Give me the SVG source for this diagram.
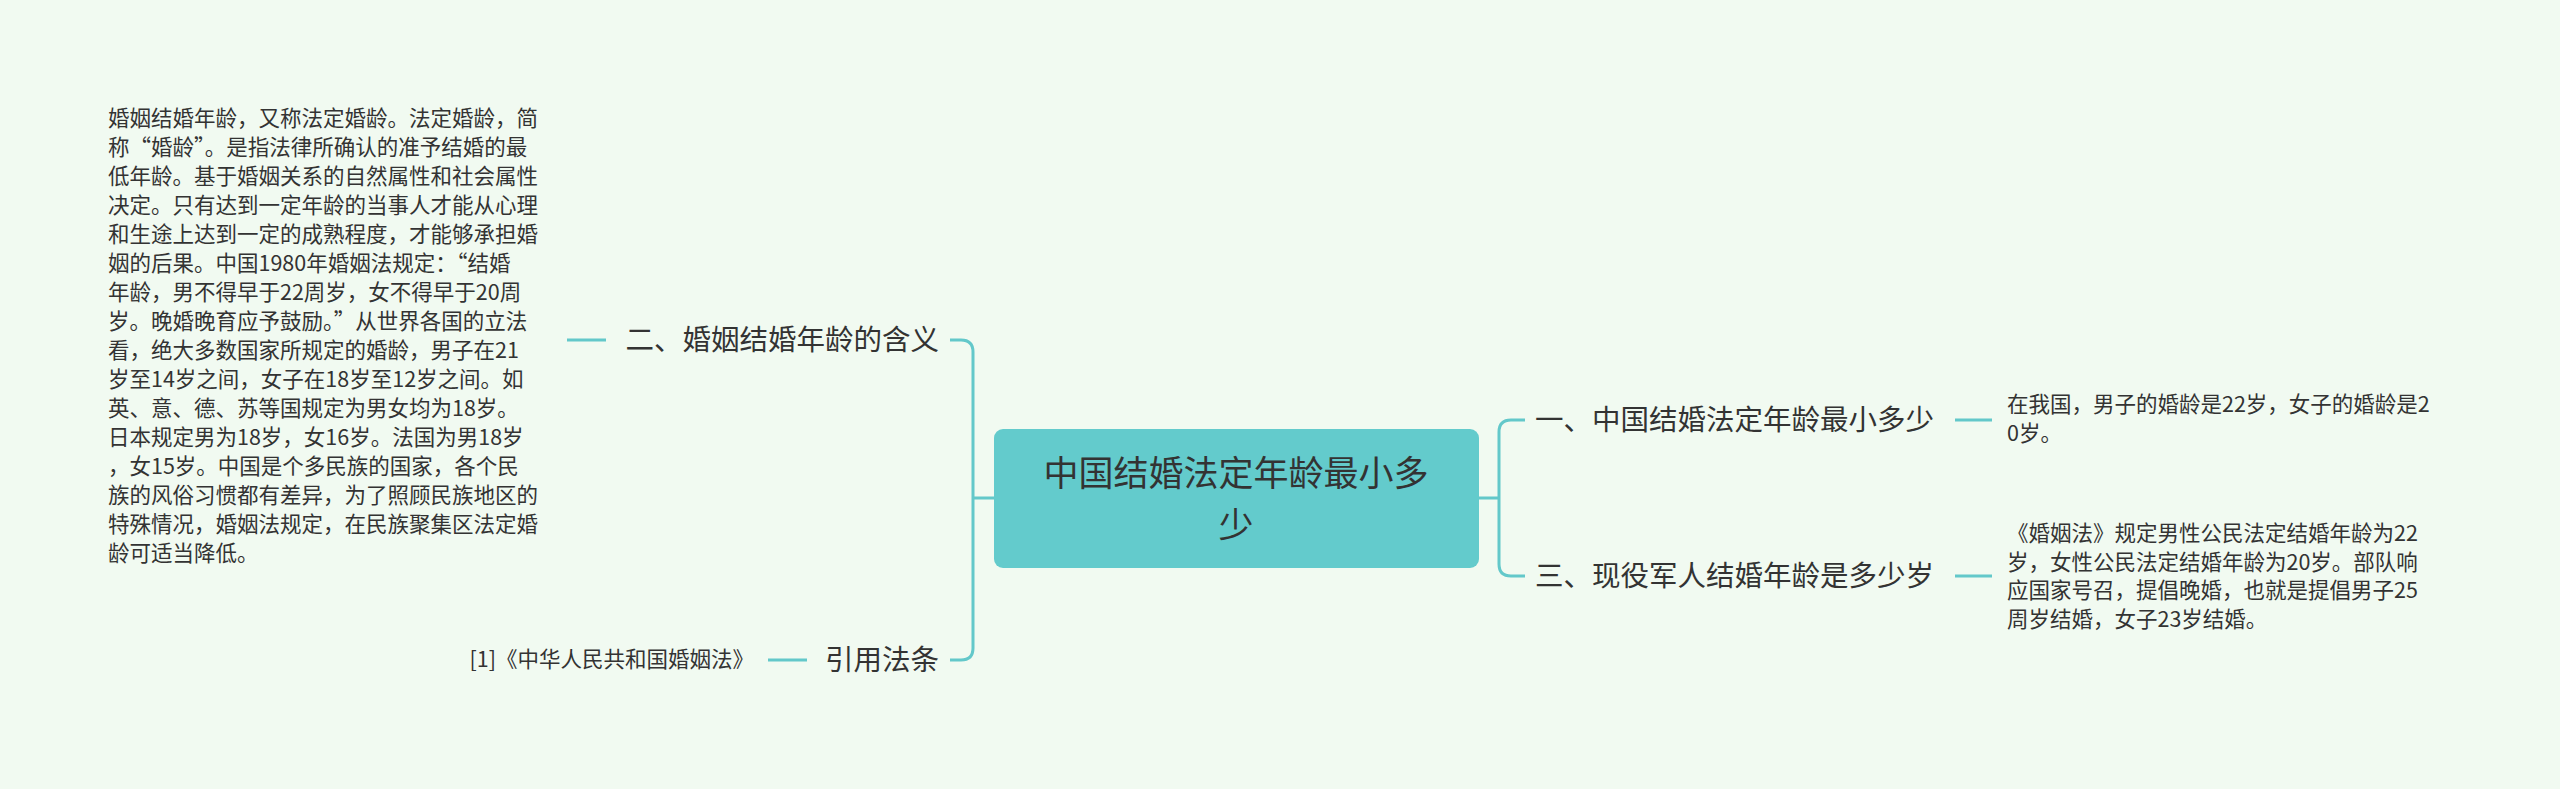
<svg xmlns="http://www.w3.org/2000/svg" width="2560" height="789" viewBox="0 0 2560 789">
<style>
text{font-family:"Noto Sans CJK SC","Noto Sans",sans-serif;fill:#333}
.c{fill:none;stroke:#63c8ca;stroke-width:3}
.t1{font-size:28.5px}
.t2{font-size:21.5px}
</style>
<rect width="2560" height="789" fill="#f1faf1"/>
<g id="connectors">
<path class="c" d="M1479 498H1499M1499 432Q1499 420 1511 420H1525M1499 432V564Q1499 576 1511 576H1525"/>
<path class="c" d="M994 498H973M973 352Q973 340 961 340H950M973 352V648Q973 660 961 660H950"/>
<path class="c" d="M1955 420H1992M1955 576H1992M567 340H606M768 660H807"/>
</g>
<g id="root"><rect x="994" y="429" width="485" height="139" rx="9" fill="#63cbcc"/>
<text x="1236" y="486" text-anchor="middle" font-size="35">中国结婚法定年龄最小多</text>
<text x="1236" y="538" text-anchor="middle" font-size="35">少</text></g>
<g id="n1"><text class="t1" x="1535" y="430">一、中国结婚法定年龄最小多少</text></g>
<g id="n1a"><text class="t2" x="2007" y="412">在我国，男子的婚龄是22岁，女子的婚龄是2</text><text class="t2" x="2007" y="441">0岁。</text></g>
<g id="n3"><text class="t1" x="1535" y="586">三、现役军人结婚年龄是多少岁</text></g>
<g id="n3a" class="t2">
<text x="2007" y="541">《婚姻法》规定男性公民法定结婚年龄为22</text>
<text x="2007" y="570">岁，女性公民法定结婚年龄为20岁。部队响</text>
<text x="2007" y="598">应国家号召，提倡晚婚，也就是提倡男子25</text>
<text x="2007" y="627">周岁结婚，女子23岁结婚。</text></g>
<g id="n2"><text class="t1" x="939" y="350" text-anchor="end">二、婚姻结婚年龄的含义</text></g>
<g id="n2a" class="t2">
<text x="108" y="126">婚姻结婚年龄，又称法定婚龄。法定婚龄，简</text>
<text x="108" y="155">称“婚龄”。是指法律所确认的准予结婚的最</text>
<text x="108" y="184">低年龄。基于婚姻关系的自然属性和社会属性</text>
<text x="108" y="213">决定。只有达到一定年龄的当事人才能从心理</text>
<text x="108" y="242">和生途上达到一定的成熟程度，才能够承担婚</text>
<text x="108" y="271">姻的后果。中国1980年婚姻法规定：“结婚</text>
<text x="108" y="300">年龄，男不得早于22周岁，女不得早于20周</text>
<text x="108" y="329">岁。晚婚晚育应予鼓励。”从世界各国的立法</text>
<text x="108" y="358">看，绝大多数国家所规定的婚龄，男子在21</text>
<text x="108" y="387">岁至14岁之间，女子在18岁至12岁之间。如</text>
<text x="108" y="416">英、意、德、苏等国规定为男女均为18岁。</text>
<text x="108" y="445">日本规定男为18岁，女16岁。法国为男18岁</text>
<text x="108" y="474">，女15岁。中国是个多民族的国家，各个民</text>
<text x="108" y="503">族的风俗习惯都有差异，为了照顾民族地区的</text>
<text x="108" y="532">特殊情况，婚姻法规定，在民族聚集区法定婚</text>
<text x="108" y="561">龄可适当降低。</text></g>
<g id="n4"><text class="t1" x="939" y="670" text-anchor="end">引用法条</text></g>
<g id="n4a"><text class="t2" x="754" y="667" text-anchor="end">[1]《中华人民共和国婚姻法》</text></g>
</svg>
